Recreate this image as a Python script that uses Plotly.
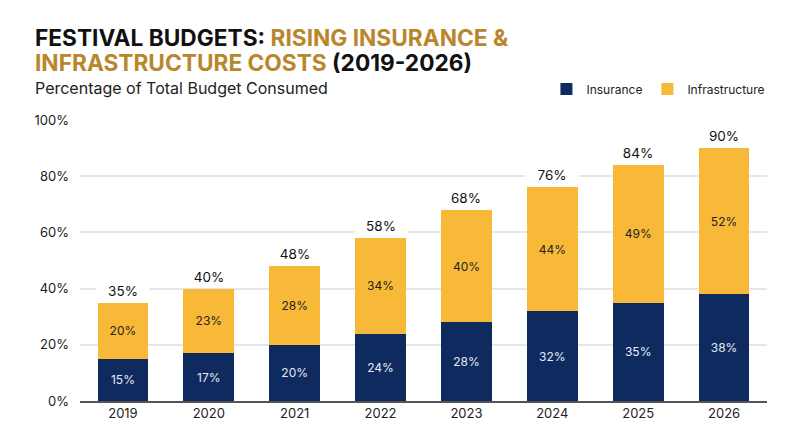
import plotly.graph_objects as go

years = ["2019", "2020", "2021", "2022", "2023", "2024", "2025", "2026"]
insurance = [15, 17, 20, 24, 28, 32, 35, 38]
infrastructure = [20, 23, 28, 34, 40, 44, 49, 52]
totals = [a + b for a, b in zip(insurance, infrastructure)]

NAVY = "#0E2A5F"
GOLD = "#F9B938"
TITLE_GOLD = "#B9862C"
FONT = "Inter, Noto Sans, sans-serif"

fig = go.Figure()

fig.add_trace(go.Bar(
    name="Insurance",
    x=years,
    y=insurance,
    marker=dict(color=NAVY, line=dict(width=0)),
    text=[f"{v}%" for v in insurance],
    textposition="inside",
    insidetextanchor="middle",
    textfont=dict(color="#E6EAF3", size=12, family=FONT),
    hovertemplate="%{x}: %{y}%<extra>Insurance</extra>",
))

fig.add_trace(go.Bar(
    name="Infrastructure",
    x=years,
    y=infrastructure,
    marker=dict(color=GOLD, line=dict(width=0)),
    text=[f"{v}%" for v in infrastructure],
    textposition="inside",
    insidetextanchor="middle",
    textfont=dict(color="#222222", size=12, family=FONT),
    hovertemplate="%{x}: %{y}%<extra>Infrastructure</extra>",
))

# total labels above each stack (white box hides the gridline behind)
for i, tot in enumerate(totals):
    fig.add_annotation(
        x=i, y=tot, text=f"{tot}%",
        showarrow=False, yanchor="bottom", yshift=2,
        width=50, bgcolor="white",
        font=dict(size=13.5, color="#111111", family=FONT),
    )

# title lines + subtitle
fig.add_annotation(
    xref="paper", yref="paper", x=-0.068, y=1.295,
    xanchor="left", yanchor="middle", showarrow=False,
    text=f"<b>FESTIVAL BUDGETS: <span style='color:{TITLE_GOLD}'>RISING INSURANCE &amp;</span></b>",
    font=dict(size=22.7, color="#111111", family=FONT),
)
fig.add_annotation(
    xref="paper", yref="paper", x=-0.068, y=1.203,
    xanchor="left", yanchor="middle", showarrow=False,
    text=f"<b><span style='color:{TITLE_GOLD}'>INFRASTRUCTURE COSTS</span> (2019-2026)</b>",
    font=dict(size=22.7, color="#111111", family=FONT),
)
fig.add_annotation(
    xref="paper", yref="paper", x=-0.068, y=1.114,
    xanchor="left", yanchor="middle", showarrow=False,
    text="Percentage of Total Budget Consumed",
    font=dict(size=16, color="#222222", family=FONT),
)

fig.update_layout(
    width=792,
    height=439,
    barmode="stack",
    bargap=0.41,
    plot_bgcolor="white",
    paper_bgcolor="white",
    font=dict(family=FONT, color="#333333"),
    margin=dict(l=72, r=33, t=112, b=46, autoexpand=False),
    legend=dict(
        orientation="h",
        xref="paper", x=1.005, xanchor="right",
        yref="container", y=1 - 81 / 439, yanchor="middle",
        font=dict(size=12, color="#222222", family=FONT),
        traceorder="normal",
        itemwidth=30,
    ),
    xaxis=dict(
        type="category",
        range=[-0.5, 7.5],
        showgrid=False,
        tickfont=dict(size=13, color="#222222"),
        showline=True, linecolor="#555555", linewidth=1.5,
        ticks="",
        automargin=False,
    ),
    yaxis=dict(
        range=[0, 100],
        dtick=20,
        ticksuffix="%",
        gridcolor="#E6E6E6",
        gridwidth=1.5,
        zeroline=False,
        tickfont=dict(size=13, color="#222222"),
        ticklabelstandoff=10,
        automargin=False,
    ),
)

fig.write_html("out.html")
